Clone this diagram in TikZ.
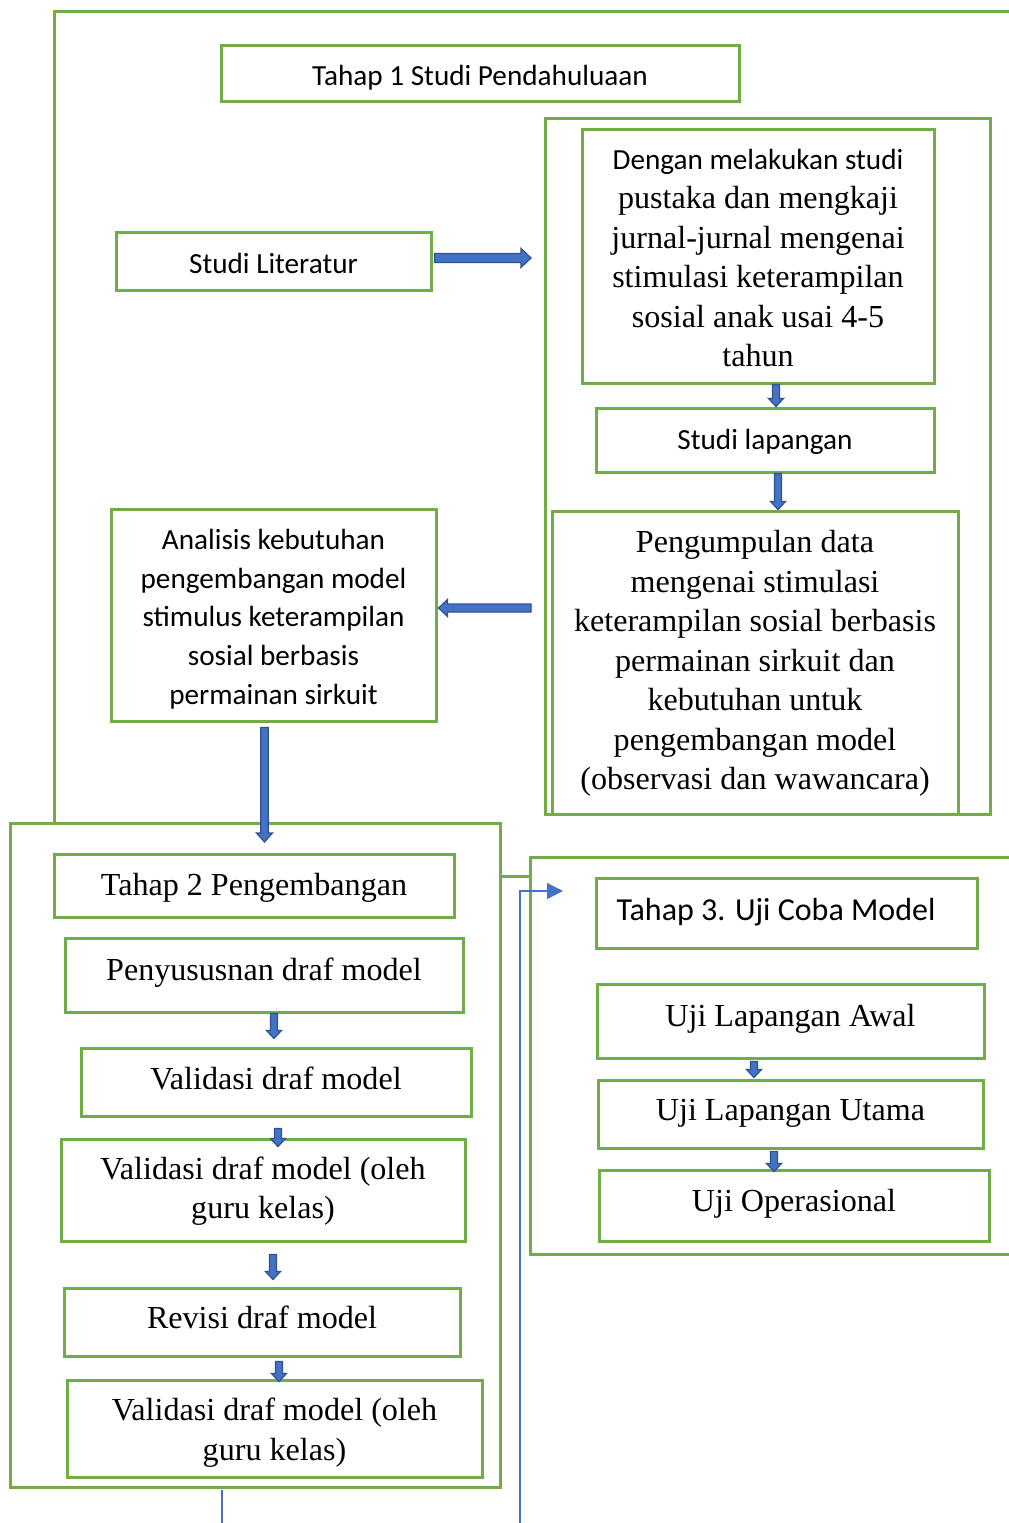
\documentclass[tikz,border=0pt]{standalone}
\usepackage{fontspec}
\setmainfont{Liberation Serif}
\newfontfamily\sansf{Carlito}
\usetikzlibrary{calc,arrows.meta}
\definecolor{gr}{HTML}{70AD47}
\definecolor{fillB}{HTML}{4472C4}
\definecolor{edgeB}{HTML}{2F528F}
\definecolor{thinB}{HTML}{4472C4}
\newcommand{\serifsz}{\fontsize{32.1pt}{39.5pt}\selectfont}
\newcommand{\sanssz}{\sansf\fontsize{29.2pt}{38.75pt}\selectfont}
\newcommand{\sansbig}{\sansf\fontsize{32pt}{38.75pt}\selectfont}
\begin{document}
\begin{tikzpicture}[x=1pt,y=-1pt,
  box/.style={draw=gr, line width=3pt, inner sep=0pt},
  txt/.style={inner sep=0pt, align=center, font=\serifsz},
  stxt/.style={txt, font=\sanssz},
  frame/.style={draw=gr, line width=3pt},
  thinline/.style={draw=thinB, line width=1.3pt},
  dnarrow/.style n args={3}{draw=edgeB, fill=fillB, line width=1.2pt, line join=miter,
    to path={([xshift=-#1]\tikztostart) -- ([xshift=-#1,yshift=#3]\tikztotarget) -- ([xshift=-#2,yshift=#3]\tikztotarget) -- (\tikztotarget) -- ([xshift=#2,yshift=#3]\tikztotarget) -- ([xshift=#1,yshift=#3]\tikztotarget) -- ([xshift=#1]\tikztostart) -- cycle}},
  rtarrow/.style n args={3}{draw=edgeB, fill=fillB, line width=1.2pt, line join=miter,
    to path={([yshift=#1]\tikztostart) -- ([xshift=-#3,yshift=#1]\tikztotarget) -- ([xshift=-#3,yshift=#2]\tikztotarget) -- (\tikztotarget) -- ([xshift=-#3,yshift=-#2]\tikztotarget) -- ([xshift=-#3,yshift=-#1]\tikztotarget) -- ([yshift=-#1]\tikztostart) -- cycle}},
  lfarrow/.style n args={3}{draw=edgeB, fill=fillB, line width=1.2pt, line join=miter,
    to path={([yshift=#1]\tikztostart) -- ([xshift=#3,yshift=#1]\tikztotarget) -- ([xshift=#3,yshift=#2]\tikztotarget) -- (\tikztotarget) -- ([xshift=#3,yshift=-#2]\tikztotarget) -- ([xshift=#3,yshift=-#1]\tikztotarget) -- ([yshift=-#1]\tikztostart) -- cycle}},
  small/.style={dnarrow={3.5pt}{7.5pt}{8pt}}
]
\useasboundingbox (0,0) rectangle (1009,1523);
\fill[white] (0,0) rectangle (1009,1523);

% frames
\draw[frame] (1015,11) -- (54,11) -- (54,823);
\draw[frame] (545,118) rectangle (990,814);
\draw[frame] (10,823) rectangle (500,1487);
\draw[frame] (1015,857) -- (530,857) -- (530,1254) -- (1015,1254);
\draw[frame] (500,876) -- (530,876);

% stage 1
\node[box, minimum width=518pt, minimum height=56pt] (t1) at (480,73) {};
\node[stxt] (t1t) at (480,77.5) {Tahap 1 Studi Pendahuluaan};
\node[box, minimum width=315pt, minimum height=58pt] (lit) at (273.5,261) {};
\node[stxt] (litt) at (273.5,263) {Studi Literatur};
\node[box, minimum width=352pt, minimum height=254pt] (dengan) at (758,256) {};
\node[txt] (dengant) at (758,258)
  {{\sanssz Dengan melakukan studi}\\ pustaka dan mengkaji\\ jurnal-jurnal mengenai\\ stimulasi keterampilan\\ sosial anak usai 4-5\\ tahun};
\node[box, minimum width=338pt, minimum height=64pt] (lap) at (765,440) {};
\node[stxt] (lapt) at (765,442) {Studi lapangan};
\node[box, minimum width=406pt, minimum height=303pt] (peng) at (755,662.5) {};
\node[txt] (pengt) at (755,663.5)
  {Pengumpulan data\\ mengenai stimulasi\\ keterampilan sosial berbasis\\ permainan sirkuit dan\\ kebutuhan untuk\\ pengembangan model\\ (observasi dan wawancara)};
\node[box, minimum width=325pt, minimum height=212pt] (anal) at (273.5,615) {};
\node[stxt] (analt) at (273.5,619)
  {Analisis kebutuhan\\ pengembangan model\\ stimulus keterampilan\\ sosial berbasis\\ permainan sirkuit};

% stage 2
\node[box, minimum width=400pt, minimum height=63pt] (t2) at (254,885.5) {};
\node[txt] (t2t) at (254,887.5) {Tahap 2 Pengembangan};
\node[box, minimum width=398pt, minimum height=74pt] (penyu) at (264,975) {};
\node[txt] (penyut) at (264,973) {Penyususnan draf model};
\node[box, minimum width=390pt, minimum height=68pt] (val1) at (276,1082) {};
\node[txt] (val1t) at (276,1078) {Validasi draf model};
\node[box, minimum width=404pt, minimum height=102pt] (val2) at (263,1190) {};
\node[txt] (val2t) at (263,1191) {Validasi draf model (oleh\\ guru kelas)};
\node[box, minimum width=396pt, minimum height=68pt] (rev) at (262,1322) {};
\node[txt] (revt) at (262,1317) {Revisi draf model};
\node[box, minimum width=415pt, minimum height=97pt] (val3) at (274.5,1428.5) {};
\node[txt] (val3t) at (274.5,1432.5) {Validasi draf model (oleh\\ guru kelas)};

% stage 3
\node[box, minimum width=381pt, minimum height=70pt] (t3) at (786.5,913) {};
\node[txt, font=\sansbig] (t3t) at (776,912) {Tahap 3. Uji Coba Model};
\node[box, minimum width=387pt, minimum height=74pt] (uawal) at (790.5,1021) {};
\node[txt] (uawalt) at (790.5,1019) {Uji Lapangan Awal};
\node[box, minimum width=385pt, minimum height=68pt] (uutama) at (790.5,1114) {};
\node[txt] (uutamat) at (790.5,1113) {Uji Lapangan Utama};
\node[box, minimum width=390pt, minimum height=71pt] (uop) at (794,1205.5) {};
\node[txt] (uopt) at (794,1203.5) {Uji Operasional};

% free ends
\coordinate (a1end) at (531,258);
\coordinate (a2start) at (531,608);
\coordinate (a3end) at (264.5,842);
\coordinate (tb1) at (520,1523);
\coordinate (tb2) at (563,891);
\coordinate (tc1) at (222,1490);
\coordinate (tc2) at (222,1523);

% block arrows
\draw[rtarrow={4.5pt}{9.5pt}{10pt}] ([xshift=2pt,yshift=3pt]lit.east) to (a1end);
\draw[lfarrow={4pt}{8.5pt}{9pt}] (a2start) to ([xshift=1pt,yshift=7pt]anal.east);
\draw[dnarrow={3.8pt}{8pt}{9pt}] ([xshift=-9pt,yshift=-5pt]anal.south) to (a3end);
\draw[small] ([xshift=18pt]dengan.south) to ([xshift=11pt]lap.north);
\draw[small] ([xshift=13pt]lap.south) to ([xshift=23pt]peng.north);
\draw[small] ([xshift=10pt]penyu.south) to ([xshift=-2pt,yshift=8pt]val1.north);
\draw[small] ([xshift=2pt,yshift=-11pt]val1.south) to ([xshift=15pt,yshift=-9pt]val2.north);
\draw[small] ([xshift=10pt,yshift=-12pt]val2.south) to ([xshift=11pt,yshift=7pt]rev.north);
\draw[small] ([xshift=17pt,yshift=-4pt]rev.south) to ([xshift=4.5pt,yshift=-3pt]val3.north);
\draw[small] ([xshift=-36.5pt,yshift=-2pt]uawal.south) to ([xshift=-36.5pt,yshift=1pt]uutama.north);
\draw[small] ([xshift=-16.5pt,yshift=-2pt]uutama.south) to ([xshift=-20pt,yshift=-3pt]uop.north);

% thin connectors
\draw[thinline, -{Triangle[length=16pt,width=16pt]}] (tb1) |- (tb2);
\draw[thinline] (tc1) -- (tc2);
\end{tikzpicture}
\end{document}
